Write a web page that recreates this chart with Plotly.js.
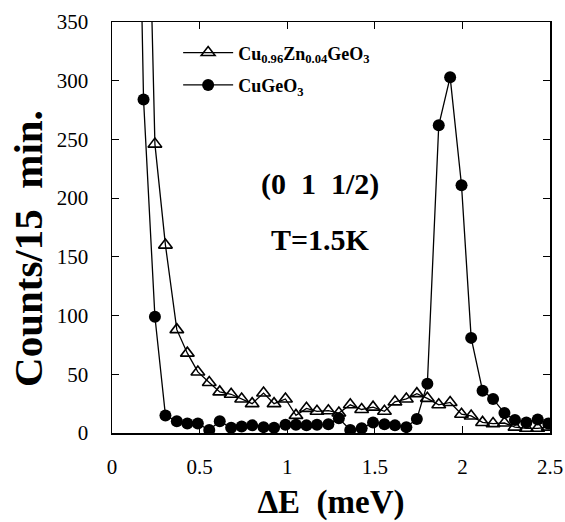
<!DOCTYPE html>
<html>
<head>
<meta charset="utf-8">
<script src="https://cdn.plot.ly/plotly-3.0.1.min.js"></script>
<style>html,body{margin:0;padding:0;background:#fff;}#chart{width:565px;height:522px;}</style>
</head>
<body>
<div id="chart"></div>
<script>
// Energy transfer (meV)
const energyZn = [0.18, 0.245, 0.305, 0.37, 0.43, 0.49, 0.555, 0.615, 0.68, 0.74, 0.80, 0.865, 0.925, 0.99, 1.05, 1.11, 1.17, 1.235, 1.295, 1.36, 1.425, 1.49, 1.555, 1.615, 1.68, 1.74, 1.80, 1.865, 1.93, 1.995, 2.05, 2.115, 2.175, 2.24, 2.30, 2.365, 2.43, 2.49];
const countsZn = [650, 246, 160, 88, 68, 52, 43, 35, 33, 29, 25, 34, 25, 29, 15, 21, 18.5, 19, 17, 24, 20, 22, 18.5, 26.5, 29, 33.5, 29.5, 24, 26, 16, 14.5, 9, 8, 8.5, 5, 4, 4, 5];
const energyCu = [0.12, 0.18, 0.245, 0.305, 0.37, 0.43, 0.49, 0.555, 0.615, 0.68, 0.74, 0.80, 0.865, 0.925, 0.99, 1.05, 1.11, 1.17, 1.235, 1.295, 1.36, 1.425, 1.49, 1.555, 1.615, 1.68, 1.74, 1.80, 1.865, 1.93, 1.995, 2.05, 2.115, 2.175, 2.24, 2.30, 2.365, 2.43, 2.49];
const countsCu = [750, 284, 99, 15, 10, 8, 8, 2.5, 10, 4.5, 5.5, 6.5, 5, 4.5, 7, 7, 6.5, 7, 7.5, 12.5, 2.5, 4, 9, 7.5, 6.5, 5, 12, 42, 262, 303, 211, 81, 36, 29, 17, 11, 9, 11.5, 8];
const nameZn = "Cu<sub>0.96</sub>Zn<sub>0.04</sub>GeO<sub>3</sub>";
const nameCu = "CuGeO<sub>3</sub>";
const xTicks = [0, 0.5, 1, 1.5, 2, 2.5];
const xTickText = ["0", "0.5", "1", "1.5", "2", "2.5"];
const yTicks = [0, 50, 100, 150, 200, 250, 300, 350];
const yTitle = "Counts/15\u00a0\u00a0min.";

const serif = "Times New Roman, Liberation Serif, DejaVu Serif, serif";

const traces = [
  {
    x: energyZn, y: countsZn, name: nameZn, type: "scatter", mode: "lines+markers",
    legendgroup: "a",
    line: {color: "#000", width: 1.3},
    marker: {symbol: "triangle-up-open", size: 12, color: "#000", line: {width: 1.6, color: "#000"}}
  },
  {
    x: energyCu, y: countsCu, name: nameCu, type: "scatter", mode: "lines+markers",
    legendgroup: "b",
    line: {color: "#000", width: 1.3},
    marker: {symbol: "circle", size: 12, color: "#000"}
  }
];

const axisCommon = {
  showgrid: false, zeroline: false, showline: true, linecolor: "#000", linewidth: 1.5,
  mirror: "allticks", ticks: "inside", ticklen: 7, tickwidth: 1.2, tickcolor: "#000",
  tickfont: {family: serif, size: 21, color: "#000"}
};

const layout = {
  width: 565, height: 522,
  font: {family: serif},
  margin: {l: 112, r: 15, t: 22, b: 89},
  paper_bgcolor: "#fff", plot_bgcolor: "#fff",
  showlegend: true,
  legend: {
    x: 0.151, y: 0.97, xanchor: "left", yanchor: "top",
    bgcolor: "rgba(255,255,255,0)", borderwidth: 0,
    font: {family: serif, size: 18, color: "#000", weight: "bold"},
    traceorder: "grouped", tracegroupgap: 6, itemwidth: 50
  },
  xaxis: Object.assign({}, axisCommon, {
    range: [0, 2.5], tickvals: xTicks, ticktext: xTickText, ticklabelstandoff: 14,
    title: {text: "ΔE  (meV)", font: {family: serif, size: 33, color: "#000", weight: "bold"}, standoff: 12}
  }),
  yaxis: Object.assign({}, axisCommon, {
    range: [0, 350], tickvals: yTicks, ticklabelstandoff: 18
  }),
  annotations: [
    {xref: "paper", yref: "paper", x: -0.192, y: 0.45, text: yTitle, textangle: -90, showarrow: false,
     xanchor: "center", yanchor: "middle",
     font: {family: serif, size: 41, color: "#000", weight: "bold"}},
    {xref: "paper", yref: "paper", x: 0.475, y: 0.606, text: "(0\u00a0\u00a01\u00a0\u00a01/2)", showarrow: false,
     font: {family: serif, size: 30, color: "#000", weight: "bold"}},
    {xref: "paper", yref: "paper", x: 0.475, y: 0.47, text: "T=1.5K", showarrow: false,
     font: {family: serif, size: 30, color: "#000", weight: "bold"}}
  ]
};

Plotly.newPlot("chart", traces, layout, {displayModeBar: false, staticPlot: true});
</script>
</body>
</html>
